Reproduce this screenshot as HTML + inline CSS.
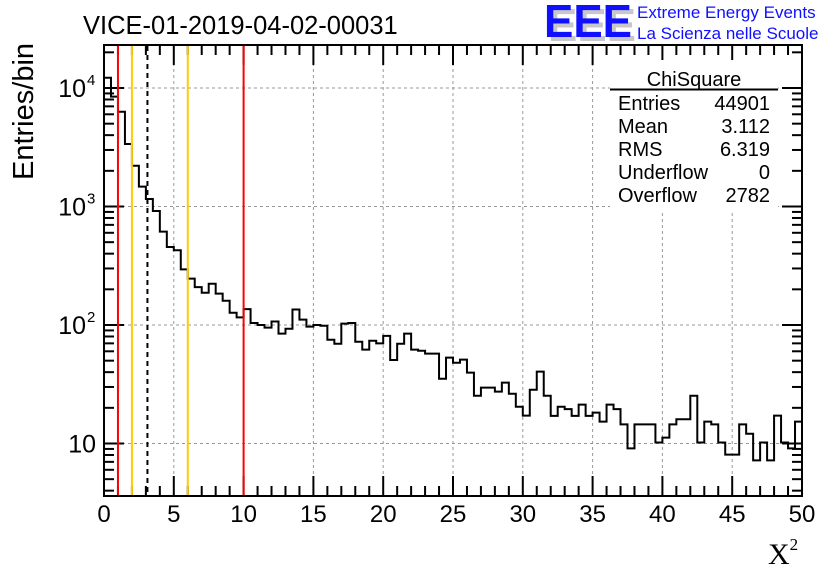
<!DOCTYPE html>
<html><head><meta charset="utf-8"><style>
body{margin:0;background:#fff;}
svg text{font-family:"Liberation Sans",sans-serif;}
</style></head><body>
<svg width="836" height="572" viewBox="0 0 836 572" xmlns="http://www.w3.org/2000/svg">
<g id="grid"></g>
<path id="hist" fill="none" stroke="#000" stroke-width="2"/>
<g id="axes"></g>
<g id="vlines"></g>
<text x="83" y="34" font-size="25.5">VICE-01-2019-04-02-00031</text>
<text transform="translate(33,180) rotate(-90)" font-size="29">Entries/bin</text>
<text x="768" y="564" font-size="30" style="font-family:'Liberation Serif',serif">X<tspan font-size="17" dy="-14">2</tspan></text>
<g>
<text x="548" y="41" font-size="46" font-weight="bold" fill="#c8c8c8" textLength="88" lengthAdjust="spacingAndGlyphs">EEE</text>
<text x="544" y="37" font-size="46" font-weight="bold" fill="#1010ff" textLength="88" lengthAdjust="spacingAndGlyphs">EEE</text>
<text x="637" y="18" font-size="17" fill="#1010ff">Extreme Energy Events</text>
<text x="637" y="39" font-size="17" fill="#1010ff">La Scienza nelle Scuole</text>
</g>
<g font-size="20">
<rect x="610" y="60" width="168" height="150" fill="#fff"/>
<text x="694" y="86" text-anchor="middle">ChiSquare</text>
<line x1="610" y1="89.5" x2="778" y2="89.5" stroke="#000" stroke-width="2"/>
<text x="618" y="110">Entries</text><text x="770" y="110" text-anchor="end">44901</text>
<text x="618" y="133">Mean</text><text x="770" y="133" text-anchor="end">3.112</text>
<text x="618" y="156">RMS</text><text x="770" y="156" text-anchor="end">6.319</text>
<text x="618" y="179">Underflow</text><text x="770" y="179" text-anchor="end">0</text>
<text x="618" y="202">Overflow</text><text x="770" y="202" text-anchor="end">2782</text>
</g>
</svg>
<script>
const counts=[12200,8450,6300,3370,2210,1470,1157,916,613,455,427,295,246,209,187,223,184,160,127,116,136,104,100,95,107,84.5,93,135,111,97,100,98.6,75,69.5,102.6,104,72.3,62,73.7,70,81,50.7,69.5,84.5,62,60.7,57.3,57.3,35.2,53,48,51,39.6,25.3,29.6,29.6,27.4,32.6,26.3,20.4,17.2,28.4,40.4,25.3,17.1,20.4,19.5,17.1,21.3,17.1,18.2,15.3,21.3,19.5,14.5,9.1,14.5,14.5,14.5,10.2,11.2,14.5,16,16,25.3,10.2,15.3,14.5,10.2,8.05,8.05,14.5,12.1,7.2,10.2,7.2,17.2,10.2,9.1,15.3];
const xTicks=[0,5,10,15,20,25,30,35,40,45,50];
const yDecades=[10,100,1000,10000];
const yTickLabels=["10","10","10","10"];
const yTickExp=["","2","3","4"];
const cutLines=[{x:1,c:"#ff0000",d:""},{x:2,c:"#ffcc00",d:""},{x:3.112,c:"#000",d:"5,4"},{x:6,c:"#ffcc00",d:""},{x:10,c:"#ff0000",d:""}];
const X0=104,X1=802,Y0=496,Y1=45;
const xs=v=>X0+(v-0)/50*(X1-X0);
const ys=v=>325-118.5*Math.log10(v/100);
const NS="http://www.w3.org/2000/svg";
function mk(t,p,a){const e=document.createElementNS(NS,t);for(const k in a)e.setAttribute(k,a[k]);p.appendChild(e);return e;}
const grid=document.getElementById('grid'),axes=document.getElementById('axes'),vl=document.getElementById('vlines');
xTicks.forEach(t=>{if(t>0&&t<50){const l=mk('line',grid,{x1:xs(t),x2:xs(t),y1:Y1,y2:Y0,stroke:'#999','stroke-dasharray':'3,3'});}});
yDecades.forEach(v=>{const l=mk('line',grid,{x1:X0,x2:X1,y1:ys(v),y2:ys(v),stroke:'#999','stroke-dasharray':'3,3'});});
cutLines.forEach(c=>{const l=mk('line',vl,{x1:xs(c.x),x2:xs(c.x),y1:Y1+1,y2:Y0-1,stroke:c.c,'stroke-width':2,'stroke-dasharray':c.d});});
const bw=(X1-X0)/counts.length;
let d=`M${X0},${Y0}`;
counts.forEach((v,i)=>{const y=Math.min(ys(v),Y0);d+=` L${X0+i*bw},${y} L${X0+(i+1)*bw},${y}`;});
d+=` L${X1},${Y0}`;
document.getElementById('hist').setAttribute('d',d);
const fr=mk('rect',axes,{x:X0,y:Y1,width:X1-X0,height:Y0-Y1,fill:'none',stroke:'#000','stroke-width':2});

for(let t=0;t<=50;t++){const L=t%5===0?20:10;
 mk('line',axes,{x1:xs(t),x2:xs(t),y1:Y0,y2:Y0-L,stroke:'#000','stroke-width':2});
 mk('line',axes,{x1:xs(t),x2:xs(t),y1:Y1,y2:Y1+L,stroke:'#000','stroke-width':2});}
xTicks.forEach(t=>{const e=mk('text',axes,{x:xs(t),y:522,'text-anchor':'middle','font-size':24});e.textContent=t;});
for(let dec=1;dec<=10000;dec*=10){for(let m=1;m<10;m++){const v=dec*m;const y=ys(v);if(y<Y1||y>Y0)continue;const L=m===1?20:10;
 mk('line',axes,{x1:X0,x2:X0+L,y1:y,y2:y,stroke:'#000','stroke-width':2});
 mk('line',axes,{x1:X1,x2:X1-L,y1:y,y2:y,stroke:'#000','stroke-width':2});}}
yDecades.forEach((v,i)=>{const e=mk('text',axes,{x:yTickExp[i]?86:96,y:ys(v)+9,'text-anchor':'end','font-size':25});e.textContent=yTickLabels[i];
 if(yTickExp[i]){const s=mk('text',axes,{x:87,y:ys(v)-3,'font-size':15});s.textContent=yTickExp[i];}});
</script>
</body></html>
